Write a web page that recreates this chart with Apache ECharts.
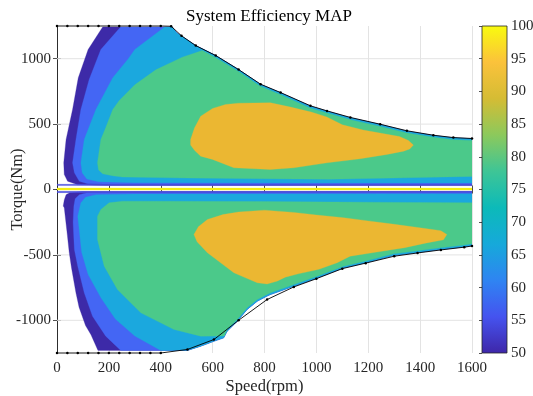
<!DOCTYPE html>
<html>
<head>
<meta charset="utf-8">
<script src="https://cdn.jsdelivr.net/npm/echarts@6/dist/echarts.min.js"></script>
<style>
  html, body { margin: 0; padding: 0; background: #fff; }
  #chart { width: 533px; height: 396px; }
</style>
</head>
<body>
<div id="chart"></div>
<script>
// --- axis ticks -------------------------------------------------------------
const speedRange = [0, 1600];
const torqueRange = [-1250, 1250];
const torqueTicks = [-1000, -500, 0, 500, 1000];
const effRange = [50, 100];

// colorbar (parula-like)
const cbStops = ["#3e26a8", "#4553ef", "#2f84f2", "#16a9da", "#0cbab9", "#3ec596", "#8cc95c", "#d5bc34", "#fbc23b", "#f9fb0e"];

// --- contour regions, [speed(rpm), torque(Nm)] --------------------------------
// upper half (motoring)
const top50 = [[176,1242],[445,1242],[460,1200],[535,1100],[560,1076],[612,1024],[700,917],[785,803],[862,739],[977,637],[1041,599],[1131,548],[1246,497],[1349,446],[1451,413],[1528,395],[1600,388],
  [1600,30],[200,31],[80,36],[41,63],[28,115],[26,204],[35,382],[60,612],[82,854],[120,1070]];
const top60 = [[245,1242],[445,1242],[460,1200],[535,1100],[560,1076],[612,1024],[700,917],[785,803],[862,739],[977,637],[1041,599],[1131,548],[1246,497],[1349,446],[1451,413],[1528,395],[1600,388],
  [1600,38],[250,40],[118,44],[86,63],[67,128],[60,204],[73,382],[92,612],[124,841],[169,1070]];
const top70 = [[415,1242],[445,1242],[460,1200],[535,1100],[560,1076],[612,1024],[700,917],[785,803],[862,739],[977,637],[1041,599],[1131,548],[1246,497],[1349,446],[1451,413],[1528,395],[1600,388],
  [1600,50],[1000,50],[300,52],[160,60],[115,80],[97,128],[92,204],[105,382],[150,612],[215,855],[275,1000],[300,1070]];
const top80 = [[560,1062],[612,1008],[700,902],[785,788],[862,724],[977,622],[1041,584],[1131,533],[1246,482],[1349,432],[1451,399],[1528,381],[1600,374],
  [1600,100],[1300,88],[1050,78],[800,82],[500,88],[253,95],[214,105],[176,120],[160,150],[156,204],[169,382],[185,459],[215,612],[240,680],[300,800],[381,915],[483,1012]];
const top90 = [[515,382],[530,470],[554,560],[600,620],[650,650],[700,660],[823,663],[900,630],[980,592],[1040,555],[1100,495],[1180,455],[1250,430],[1320,405],[1355,375],[1374,340],[1360,310],
  [1336,293],[1272,268],[1169,235],[1041,204],[913,166],[823,153],[682,166],[600,230],[554,255],[530,300],[515,340]];

// lower half (generating)
const bot50 = [[1600,-14],[100,-16],[50,-22],[35,-40],[28,-80],[24,-127],[28,-140],[40,-350],[47,-480],[56,-600],[73,-790],[85,-900],[110,-1040],[131,-1110],[158,-1230],
  [503,-1230],[554,-1198],[605,-1160],[643,-1134],[656,-1083],[695,-1007],[733,-917],[772,-854],[810,-815],[823,-803],[913,-739],[1000,-678],[1105,-599],[1190,-560],[1297,-505],[1390,-482],[1477,-459],[1570,-438],[1600,-428]];
const bot60 = [[1600,-20],[120,-22],[86,-40],[70,-70],[65,-127],[62,-250],[67,-459],[80,-586],[105,-790],[137,-969],[188,-1121],[246,-1230],
  [503,-1230],[554,-1198],[605,-1160],[643,-1134],[656,-1083],[695,-1007],[733,-917],[772,-854],[810,-815],[823,-803],[913,-739],[1000,-678],[1105,-599],[1190,-560],[1297,-505],[1390,-482],[1477,-459],[1570,-438],[1600,-428]];
const bot70 = [[1600,-32],[300,-34],[150,-40],[110,-60],[92,-102],[80,-204],[95,-480],[120,-650],[170,-830],[225,-990],[300,-1120],[400,-1230],
  [503,-1230],[554,-1198],[605,-1160],[643,-1134],[656,-1083],[695,-1007],[733,-917],[772,-854],[810,-815],[823,-803],[913,-739],[1000,-678],[1105,-599],[1190,-560],[1297,-505],[1390,-482],[1477,-459],[1570,-438],[1600,-428]];
const bot80 = [[1600,-102],[1200,-97],[800,-92],[400,-90],[253,-89],[201,-102],[169,-153],[156,-204],[156,-382],[182,-586],[233,-765],[323,-943],[451,-1070],[554,-1121],[645,-1120],
  [656,-1069],[695,-994],[733,-904],[772,-841],[810,-802],[823,-790],[913,-726],[1000,-665],[1105,-586],[1190,-547],[1297,-492],[1390,-469],[1477,-446],[1570,-425],[1600,-415]];
const bot90 = [[528,-344],[545,-285],[580,-229],[640,-192],[700,-172],[800,-158],[913,-175],[1000,-195],[1105,-216],[1200,-240],[1300,-266],[1426,-300],[1480,-315],[1503,-344],
  [1490,-385],[1420,-410],[1340,-445],[1227,-480],[1130,-510],[1080,-560],[1010,-610],[930,-645],[880,-670],[850,-700],[810,-722],[772,-713],[682,-637],[580,-484],[540,-400]];

// thin bands around zero torque
const bandUpper = [[0,30],[1600,30],[1600,40],[0,40]];
const bandZero = [[0,11],[1600,11],[1600,-4],[0,-4]];
const bandLower = [[0,-14],[1600,-14],[1600,-24],[0,-24]];

// max torque curve
const maxTorqueTop = [[0,1250],[40,1250],[80,1250],[120,1250],[160,1250],[200,1250],[240,1250],[280,1250],[320,1250],[360,1250],[400,1250],[440,1248],
  [480,1175],[535,1100],[612,1024],[700,917],[785,805],[862,741],[977,640],[1041,601],[1131,551],[1246,499],[1349,449],[1451,415],[1528,397],[1600,390]];
const maxTorqueBot = [[0,-1250],[40,-1250],[80,-1250],[120,-1250],[160,-1250],[200,-1250],[240,-1250],[280,-1250],[320,-1250],[360,-1250],[400,-1250],
  [503,-1223],[605,-1147],[700,-1000],[810,-841],[913,-745],[1000,-682],[1100,-605],[1190,-563],[1300,-510],[1390,-485],[1480,-462],[1570,-441],[1600,-432]];

const C = { e50: "#3d2aa8", e60: "#4466f4", e70: "#1ba8de", e80: "#4bc98a", e90: "#ebb732", e100: "#f5ef12" };

const regions = [
  [top50, C.e50], [top60, C.e60], [top70, C.e70], [top80, C.e80], [top90, C.e90],
  [bot50, C.e50], [bot60, C.e60], [bot70, C.e70], [bot80, C.e80], [bot90, C.e90],
  [bandUpper, "#4a4fe0"], [bandZero, C.e100], [bandLower, "#4a4fe0"]
];

const FONT = "Liberation Serif";
const GRID_COLOR = "#e3e3e3";
const chart = echarts.init(document.getElementById("chart"));

function polygonSeries(pts, color) {
  return {
    type: "custom",
    xAxisIndex: 0,
    yAxisIndex: 0,
    clip: true,
    silent: true,
    z: 2,
    data: pts,
    encode: { x: 0, y: 1 },
    renderItem: (params, api) => {
      if (params.dataIndex !== 0) return null;
      return {
        type: "polygon",
        shape: { points: pts.map((p) => api.coord(p)) },
        style: { fill: color, stroke: color, lineWidth: 0.3 }
      };
    }
  };
}

function lineSeries(pts) {
  return {
    type: "line",
    xAxisIndex: 0,
    yAxisIndex: 0,
    data: pts,
    symbol: "circle",
    symbolSize: 2.5,
    showSymbol: true,
    clip: false,
    itemStyle: { color: "#000" },
    lineStyle: { color: "#000", width: 0.9 },
    silent: true,
    z: 5
  };
}

const axisLine = { show: true, lineStyle: { color: "#262626", width: 0.8 } };
const tickIn = { show: true, inside: true, length: 4, lineStyle: { color: "#262626", width: 0.8 } };
const labelStyle = { fontFamily: FONT, fontSize: 15, color: "#262626", formatter: (v) => String(v) };
const nameStyle = { fontFamily: FONT, fontSize: 16.5, color: "#262626" };

chart.setOption({
  animation: false,
  title: {
    text: "System Efficiency MAP",
    left: 264,
    textAlign: "center",
    top: 3,
    textStyle: { fontFamily: FONT, fontSize: 17, fontWeight: "normal", color: "#000" }
  },
  grid: [
    { left: 57, top: 26, width: 415, height: 327, outerBoundsMode: "none", containLabel: false },
    { left: 482, top: 26, width: 25, height: 327, outerBoundsMode: "none", containLabel: false }
  ],
  xAxis: [
    {
      gridIndex: 0, type: "value", min: speedRange[0], max: speedRange[1], interval: 200,
      name: "Speed(rpm)", nameLocation: "middle", nameGap: 25, nameMoveOverlap: false,
      nameTextStyle: nameStyle,
      axisLine, axisTick: tickIn,
      axisLabel: { ...labelStyle, margin: 8 },
      splitLine: { show: true, lineStyle: { color: GRID_COLOR, width: 1 } }
    },
    {
      gridIndex: 0, type: "value", position: "top", min: speedRange[0], max: speedRange[1], interval: 200,
      axisLine, axisTick: tickIn, axisLabel: { show: false }, splitLine: { show: false }
    },
    { gridIndex: 1, type: "value", min: 0, max: 1, show: false }
  ],
  yAxis: [
    {
      gridIndex: 0, type: "value", min: torqueRange[0], max: torqueRange[1],
      name: "Torque(Nm)", nameLocation: "middle", nameGap: 31, nameRotate: 90, nameMoveOverlap: false,
      nameTextStyle: nameStyle,
      axisLine,
      axisTick: { ...tickIn, customValues: torqueTicks },
      axisLabel: { ...labelStyle, margin: 6, customValues: torqueTicks },
      splitLine: { show: false }
    },
    {
      gridIndex: 0, type: "value", position: "right", min: torqueRange[0], max: torqueRange[1],
      axisLine,
      axisTick: { ...tickIn, customValues: torqueTicks },
      axisLabel: { show: false, customValues: torqueTicks },
      splitLine: { show: false }
    },
    {
      gridIndex: 1, type: "value", position: "right", min: effRange[0], max: effRange[1], interval: 5,
      axisLine: { show: false },
      axisTick: { show: true, inside: true, length: 3, lineStyle: { color: "#262626", width: 0.8 } },
      axisLabel: { ...labelStyle, margin: 4 },
      splitLine: { show: false }
    }
  ],
  series: [
    // horizontal grid lines at the torque ticks, under the contour fill
    {
      type: "custom", xAxisIndex: 0, yAxisIndex: 0, silent: true, z: 1,
      data: torqueTicks.map((t) => [speedRange[0], t]),
      renderItem: (params, api) => {
        const a = api.coord([speedRange[0], api.value(1)]);
        const b = api.coord([speedRange[1], api.value(1)]);
        return {
          type: "line",
          shape: { x1: a[0], y1: a[1], x2: b[0], y2: b[1] },
          style: { stroke: GRID_COLOR, lineWidth: 1 }
        };
      }
    },
    ...regions.map(([pts, color]) => polygonSeries(pts, color)),
    lineSeries(maxTorqueTop),
    lineSeries(maxTorqueBot),
    // colorbar
    {
      type: "custom", xAxisIndex: 2, yAxisIndex: 2, silent: true, z: 1,
      data: [effRange],
      renderItem: (params, api) => {
        const p0 = api.coord([0, effRange[0]]);
        const p1 = api.coord([1, effRange[1]]);
        return {
          type: "rect",
          shape: { x: p0[0], y: p1[1], width: p1[0] - p0[0], height: p0[1] - p1[1] },
          style: {
            fill: new echarts.graphic.LinearGradient(0, 1, 0, 0,
              cbStops.map((c, i) => ({ offset: i / (cbStops.length - 1), color: c }))),
            stroke: "#262626", lineWidth: 0.8
          }
        };
      }
    }
  ]
});
</script>
</body>
</html>
